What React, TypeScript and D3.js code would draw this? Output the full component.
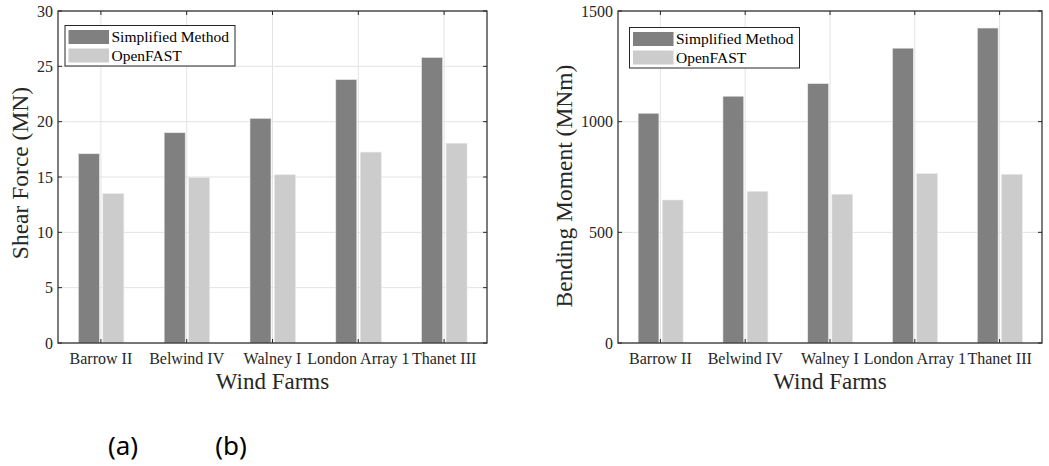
import React, { useEffect } from "react";
import * as d3 from "d3";

const farms = ["Barrow II", "Belwind IV", "Walney I", "London Array 1", "Thanet III"];
const seriesNames = ["Simplified Method", "OpenFAST"];
const shearSimplified = [17.1, 19.0, 20.3, 23.8, 25.8];
const shearOpenFast = [13.5, 14.95, 15.2, 17.25, 18.05];
const momentSimplified = [1038, 1115, 1172, 1332, 1423];
const momentOpenFast = [646, 685, 672, 765, 762];
const shearTicks = [0, 5, 10, 15, 20, 25, 30];
const momentTicks = [0, 500, 1000, 1500];

const COLORS = ["#808080", "#cccccc"];
const FONT = "'Liberation Serif', 'Times New Roman', serif";
const TOP = 11;
const BOTTOM = 343;

function Panel({ left, right, yMax, ticks, series, yLabel, yLabelX, yLabelY, legendX, legendY }) {
  const x = d3.scaleLinear().domain([0.5, farms.length + 0.5]).range([left, right]);
  const y = d3.scaleLinear().domain([0, yMax]).range([BOTTOM, TOP]);
  const offsets = [-0.14, 0.145];
  const barW = 0.245;
  const mid = (left + right) / 2;

  return (
    <g>
      {/* grid */}
      {ticks.map((t) => (
        <line key={"gy" + t} x1={left} x2={right} y1={y(t)} y2={y(t)} stroke="#e3e3e3" strokeWidth={1} />
      ))}
      {farms.map((f, i) => (
        <line key={"gx" + f} x1={x(i + 1)} x2={x(i + 1)} y1={TOP} y2={BOTTOM} stroke="#e3e3e3" strokeWidth={1} />
      ))}

      {/* bars */}
      {series.map((vals, s) =>
        vals.map((v, i) => (
          <rect
            key={s + "-" + i}
            x={x(i + 1 + offsets[s] - barW / 2)}
            width={x(barW) - x(0)}
            y={y(v)}
            height={y(0) - y(v)}
            fill={COLORS[s]}
            stroke="#e8e8e8"
            strokeWidth={0.6}
          />
        ))
      )}

      {/* box */}
      <rect x={left} y={TOP} width={right - left} height={BOTTOM - TOP} fill="none" stroke="#262626" strokeWidth={1.2} />

      {/* ticks */}
      {farms.map((f, i) => (
        <g key={"tx" + f}>
          <line x1={x(i + 1)} x2={x(i + 1)} y1={BOTTOM} y2={BOTTOM - 4} stroke="#262626" />
          <line x1={x(i + 1)} x2={x(i + 1)} y1={TOP} y2={TOP + 4} stroke="#262626" />
          <text x={x(i + 1)} y={BOTTOM + 21} textAnchor="middle" fontFamily={FONT} fontSize={16} fill="#262626">
            {f}
          </text>
        </g>
      ))}
      {ticks.map((t) => (
        <g key={"ty" + t}>
          <line x1={left} x2={left + 4} y1={y(t)} y2={y(t)} stroke="#262626" />
          <line x1={right} x2={right - 4} y1={y(t)} y2={y(t)} stroke="#262626" />
          <text x={left - 5} y={y(t) + 5.5} textAnchor="end" fontFamily={FONT} fontSize={16} fill="#262626">
            {t}
          </text>
        </g>
      ))}

      {/* axis titles */}
      <text x={mid} y={BOTTOM + 46} textAnchor="middle" fontFamily={FONT} fontSize={23} fill="#262626">
        Wind Farms
      </text>
      <text
        transform={`translate(${yLabelX},${yLabelY}) rotate(-90)`}
        textAnchor="middle"
        fontFamily={FONT}
        fontSize={23.5}
        fill="#262626"
      >
        {yLabel}
      </text>

      {/* legend */}
      <g transform={`translate(${legendX},${legendY})`}>
        <rect x={0} y={0} width={170} height={40.5} fill="#fff" stroke="#262626" strokeWidth={1} />
        {seriesNames.map((n, s) => (
          <g key={n}>
            <rect x={3.5} y={4.5 + s * 18.5} width={40.5} height={14} fill={COLORS[s]} />
            <text x={46.5} y={16.5 + s * 18.5} fontFamily={FONT} fontSize={15.5} fill="#000">
              {n}
            </text>
          </g>
        ))}
      </g>
    </g>
  );
}

export default function App() {
  useEffect(() => {
    document.body.style.margin = "0";
  }, []);

  return (
    <svg width={1049} height={466} style={{ display: "block", background: "#fff" }}>
      <Panel
        left={58}
        right={487}
        yMax={30}
        ticks={shearTicks}
        series={[shearSimplified, shearOpenFast]}
        yLabel="Shear Force (MN)"
        yLabelX={28}
        yLabelY={173}
        legendX={65}
        legendY={25.5}
      />
      <Panel
        left={618}
        right={1042}
        yMax={1500}
        ticks={momentTicks}
        series={[momentSimplified, momentOpenFast]}
        yLabel="Bending Moment (MNm)"
        yLabelX={572}
        yLabelY={186}
        legendX={629.5}
        legendY={27.5}
      />
      <text x={123} y={455} textAnchor="middle" fontFamily="'Noto Sans', sans-serif" fontSize={26} fill="#000">
        (a)
      </text>
      <text x={231} y={455} textAnchor="middle" fontFamily="'Noto Sans', sans-serif" fontSize={26} fill="#000">
        (b)
      </text>
    </svg>
  );
}
